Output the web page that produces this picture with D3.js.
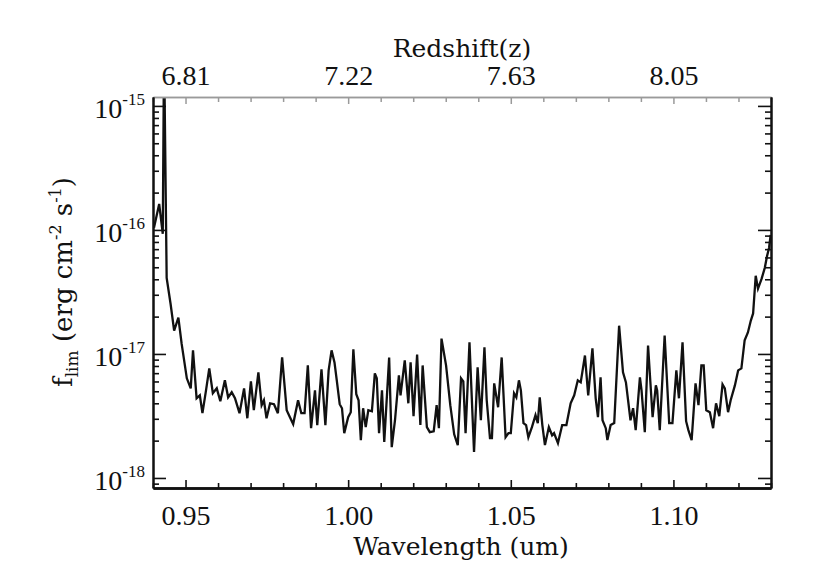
<!DOCTYPE html>
<html>
<head>
<meta charset="utf-8">
<script src="https://cdn.jsdelivr.net/npm/d3@7/dist/d3.min.js"></script>
<style>
  html, body { margin: 0; padding: 0; background: #fff; }
  svg { display: block; }
</style>
</head>
<body>
<svg id="chart" width="817" height="585"></svg>
<script>
// ---- Data ----
// wavelength in micron
const wavelength = [
0.9403,0.9419,0.9430,0.9434,0.9442,0.9454,0.9465,0.9478,0.9488,0.9504,
0.9516,0.9523,0.9534,0.9544,0.9552,0.9563,0.9573,0.9584,0.9596,0.9607,
0.9621,0.9631,0.9642,0.9652,0.9666,0.9680,0.9690,0.9701,0.9710,0.9724,
0.9734,0.9741,0.9749,0.9760,0.9772,0.9784,0.9797,0.9811,0.9821,0.9831,
0.9846,0.9856,0.9866,0.9876,0.9886,0.9898,0.9905,0.9918,0.9930,0.9940,
0.9949,0.9958,0.9965,0.9974,0.9981,0.9988,1.0000,1.0008,1.0016,1.0025,
1.0032,1.0039,1.0046,1.0054,1.0062,1.0073,1.0082,1.0088,1.0095,1.0104,
1.0111,1.0126,1.0134,1.0144,1.0156,1.0161,1.0174,1.0185,1.0192,1.0201,
1.0212,1.0222,1.0229,1.0242,1.0251,1.0263,1.0272,1.0279,1.0287,1.0301,
1.0314,1.0326,1.0337,1.0347,1.0354,1.0361,1.0373,1.0387,1.0398,1.0408,
1.0419,1.0426,1.0436,1.0442,1.0449,1.0461,1.0472,1.0484,1.0493,1.0500,
1.0510,1.0517,1.0525,1.0531,1.0539,1.0547,1.0554,1.0565,1.0576,1.0583,
1.0589,1.0597,1.0605,1.0617,1.0627,1.0633,1.0645,1.0658,1.0671,1.0684,
1.0695,1.0706,1.0715,1.0728,1.0738,1.0751,1.0761,1.0768,1.0776,1.0782,
1.0792,1.0797,1.0807,1.0818,1.0833,1.0845,1.0854,1.0868,1.0876,1.0884,
1.0897,1.0902,1.0912,1.0922,1.0936,1.0946,1.0950,1.0958,1.0973,1.0987,
1.0997,1.1009,1.1017,1.1028,1.1039,1.1046,1.1056,1.1068,1.1077,1.1086,
1.1093,1.1101,1.1112,1.1122,1.1131,1.1141,1.1151,1.1158,1.1168,1.1176,
1.1189,1.1199,1.1209,1.1219,1.1229,1.1238,1.1245,1.1253,1.1260,1.1271,
1.1281,1.1288,1.1294,1.1299
];
// limiting flux in units of 1e-18 erg cm^-2 s^-1
const fluxE18 = [
104,162,93,3000,41,25.4,15.4,19.6,12.1,6.36,
5.28,10.7,4.39,4.64,3.33,5.09,7.65,4.82,5.28,4.15,
6.13,4.47,4.91,4.39,3.33,5.28,3.03,6.01,3.52,7.10,
3.86,4.23,3.03,4.00,3.93,3.33,9.37,3.52,3.09,2.72,
4.23,3.33,3.33,8.08,2.52,5.09,2.67,7.5,2.67,7.37,
10.7,8.55,6.13,3.93,3.65,2.30,3.09,3.39,10.9,4.73,
4.23,2.02,3.65,2.57,3.52,3.45,6.97,6.36,2.30,5.09,
1.95,9.37,1.77,2.92,6.72,4.64,8.87,4.00,8.55,3.15,
9.9,2.67,8.08,2.57,2.34,2.38,3.86,2.52,13.3,8.08,
3.86,2.25,1.84,6.36,6.01,2.30,12.4,1.62,7.79,2.92,
11.3,4.23,2.10,2.10,5.79,3.72,9.37,2.13,2.30,2.30,
4.82,4.47,6.13,5.09,2.77,2.67,2.13,2.57,3.21,2.77,
4.47,2.67,1.84,2.57,2.21,2.30,1.91,2.67,2.67,4.00,
4.64,6.13,5.90,9.72,4.64,11.1,4.39,3.09,6.48,2.92,
2.52,2.02,2.67,2.77,16.9,7.10,5.90,2.92,3.65,2.43,
6.48,5.09,2.34,11.7,3.09,5.58,5.09,2.43,14.1,2.77,
2.77,7.37,4.39,12.4,2.87,2.43,2.02,5.79,3.86,8.08,
8.08,3.52,3.39,2.52,4.00,3.15,5.68,5.28,3.39,4.23,
5.58,7.37,7.65,12.9,14.9,18.6,21.2,42.7,33.6,40.3,
49.5,61.8,71.6,91
];
const FLUX_UNIT = 1e-18;

const xMajorTicks = [0.95, 1.00, 1.05, 1.10];
const xTickLabels = ["0.95", "1.00", "1.05", "1.10"];
const redshiftLabels = ["6.81", "7.22", "7.63", "8.05"];
const yMajorTicks = [1e-15, 1e-16, 1e-17, 1e-18];
const yTickExponents = ["-15", "-16", "-17", "-18"];
const xDomain = [0.94, 1.13];
const yDomain = [8.3e-19, 1.18e-15];

// ---- Layout ----
const svg = d3.select("#chart");
const L = 153, R = 771, T = 97, B = 488;

const x = d3.scaleLinear().domain(xDomain).range([L, R]);
const y = d3.scaleLog().domain(yDomain).range([B, T]);

const xMinor = d3.range(94, 114).map(d => d / 100).filter(v => !xMajorTicks.some(m => Math.abs(m - v) < 1e-9));
const yMinor = [];
for (let e = -19; e <= -15; e++) for (let k = 2; k <= 9; k++) {
  const v = k * Math.pow(10, e);
  if (v > yDomain[0] && v < yDomain[1]) yMinor.push(v);
}

const tickFont = "'Liberation Serif', 'Times New Roman', serif";
const titleFont = "'DejaVu Serif', serif";

// ---- Line ----
svg.append("defs").append("clipPath").attr("id", "plotclip")
  .append("rect").attr("x", L).attr("y", T).attr("width", R - L).attr("height", B - T);

const data = wavelength.map((w, i) => ({ w: w, f: fluxE18[i] * FLUX_UNIT }));
const line = d3.line().x(d => x(d.w)).y(d => y(d.f));
svg.append("path")
  .datum(data)
  .attr("clip-path", "url(#plotclip)")
  .attr("fill", "none")
  .attr("stroke", "#111")
  .attr("stroke-width", 2.3)
  .attr("stroke-linejoin", "miter")
  .attr("d", line);

function styleAxis(g, color, width) {
  g.select(".domain").attr("stroke", color).attr("stroke-width", width);
  g.selectAll(".tick line").attr("stroke", color).attr("stroke-width", Math.min(width, 1.6));
}

// ---- Bottom axis ----
const gBottomMinor = svg.append("g").attr("transform", `translate(0,${B})`)
  .call(d3.axisBottom(x).tickValues(xMinor).tickSize(-5).tickSizeOuter(0).tickFormat(""));
styleAxis(gBottomMinor, "#111", 2.5);
const gBottom = svg.append("g").attr("transform", `translate(0,${B})`)
  .call(d3.axisBottom(x).tickValues(xMajorTicks).tickSize(-8).tickSizeOuter(0).tickPadding(17)
    .tickFormat((d, i) => xTickLabels[i]));
styleAxis(gBottom, "#111", 2.5);
gBottom.selectAll("text").attr("font-family", tickFont).attr("font-size", 28).attr("fill", "#111");

// ---- Top axis (redshift) ----
const gTopMinor = svg.append("g").attr("transform", `translate(0,${T})`)
  .call(d3.axisTop(x).tickValues(xMinor).tickSize(-5).tickSizeOuter(0).tickFormat(""));
styleAxis(gTopMinor, "#9a9a9a", 1.5);
const gTop = svg.append("g").attr("transform", `translate(0,${T})`)
  .call(d3.axisTop(x).tickValues(xMajorTicks).tickSize(-7).tickSizeOuter(0).tickPadding(12)
    .tickFormat((d, i) => redshiftLabels[i]));
styleAxis(gTop, "#9a9a9a", 1.5);
gTop.selectAll("text").attr("font-family", tickFont).attr("font-size", 28).attr("fill", "#111");

// ---- Left axis ----
const gLeftMinor = svg.append("g").attr("transform", `translate(${L},0)`)
  .call(d3.axisLeft(y).tickValues(yMinor).tickSize(-6).tickSizeOuter(0).tickFormat(""));
styleAxis(gLeftMinor, "#111", 2);
const gLeft = svg.append("g").attr("transform", `translate(${L},0)`)
  .call(d3.axisLeft(y).tickValues(yMajorTicks).tickSize(-13).tickSizeOuter(0).tickPadding(8)
    .tickFormat(() => ""));
styleAxis(gLeft, "#111", 2);
gLeft.selectAll(".tick text").each(function(d, i) {
  const t = d3.select(this);
  t.text(null)
    .attr("x", -8).attr("dy", null).attr("y", 12)
    .attr("text-anchor", "end")
    .attr("font-family", tickFont).attr("font-size", 28).attr("fill", "#111");
  t.append("tspan").text("10");
  t.append("tspan").attr("dy", -13).attr("font-size", 17).text(yTickExponents[i]);
});

// ---- Right axis ----
const gRightMinor = svg.append("g").attr("transform", `translate(${R},0)`)
  .call(d3.axisRight(y).tickValues(yMinor).tickSize(-6).tickSizeOuter(0).tickFormat(""));
styleAxis(gRightMinor, "#111", 2);
const gRight = svg.append("g").attr("transform", `translate(${R},0)`)
  .call(d3.axisRight(y).tickValues(yMajorTicks).tickSize(-13).tickSizeOuter(0).tickFormat(""));
styleAxis(gRight, "#111", 2);

// ---- Titles ----
svg.append("text")
  .attr("x", 462).attr("y", 57)
  .attr("text-anchor", "middle")
  .attr("font-family", titleFont).attr("font-size", 25).attr("fill", "#111")
  .text("Redshift(z)");

svg.append("text")
  .attr("x", 461).attr("y", 555)
  .attr("text-anchor", "middle")
  .attr("font-family", titleFont).attr("font-size", 25).attr("fill", "#111")
  .text("Wavelength (um)");

const yl = svg.append("text")
  .attr("transform", "translate(72,282) rotate(-90)")
  .attr("text-anchor", "middle")
  .attr("font-family", titleFont).attr("font-size", 26).attr("fill", "#111");
yl.append("tspan").text("f");
yl.append("tspan").attr("dy", 6).attr("font-size", 17).text("lim");
yl.append("tspan").attr("dy", -6).text(" (erg cm");
yl.append("tspan").attr("dy", -11).attr("font-size", 16).text("-2");
yl.append("tspan").attr("dy", 11).text(" s");
yl.append("tspan").attr("dy", -11).attr("font-size", 16).text("-1");
yl.append("tspan").attr("dy", 11).text(")");
</script>
</body>
</html>
